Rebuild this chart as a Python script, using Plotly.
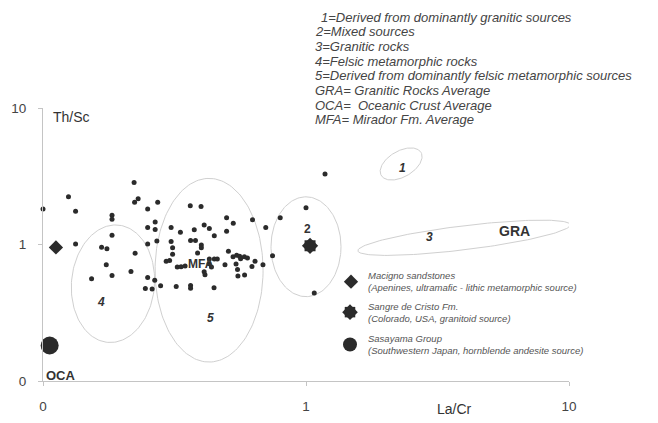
import math
import plotly.graph_objects as go

# ---------------- data ----------------
la_cr = [0.100, 0.125, 0.133, 0.222, 0.223, 0.230, 0.273, 0.250, 0.183, 0.183,
         0.183, 0.133, 0.167, 0.175, 0.224, 0.174, 0.183, 0.153, 0.216, 0.250,
         0.266, 0.245, 0.260, 0.280, 0.321, 0.364, 0.364, 0.447, 0.267, 0.250,
         0.267, 0.250, 0.271, 0.307, 0.333, 0.376, 0.410, 0.429, 0.448, 0.363,
         0.399, 0.499, 0.529, 0.499, 0.307, 0.311, 0.311, 0.294, 0.303, 0.364,
         0.380, 0.400, 0.400, 0.387, 0.324, 0.335, 0.347, 0.410, 0.413, 0.428,
         0.437, 0.429, 0.448, 0.460, 0.492, 0.507, 0.528, 0.545, 0.559, 0.564,
         0.583, 0.599, 0.542, 0.549, 0.551, 0.584, 0.626, 0.640, 0.623, 0.686,
         0.703, 0.746, 0.798, 1.000, 1.181, 1.075]
th_sc = [1.82, 2.24, 1.75, 2.85, 2.04, 2.16, 2.04, 1.82, 1.64, 1.53,
         1.17, 1.01, 0.955, 0.931, 0.863, 0.711, 0.594, 0.562, 0.634, 0.574,
         0.548, 0.477, 0.473, 0.499, 0.493, 0.501, 0.479, 0.483, 1.46, 1.33,
         1.29, 1.01, 1.06, 1.33, 1.23, 1.28, 1.39, 1.31, 1.16, 1.92,
         1.90, 1.57, 1.43, 1.25, 1.05, 0.947, 0.849, 0.754, 0.763, 1.07,
         1.07, 0.991, 0.947, 0.866, 0.684, 0.688, 0.696, 0.632, 0.601, 0.723,
         0.684, 0.784, 0.784, 0.784, 0.711, 0.893, 0.814, 0.834, 0.821, 0.787,
         0.814, 0.796, 0.721, 0.657, 0.588, 0.599, 1.52, 0.754, 0.691, 0.711,
         1.33, 0.827, 1.57, 1.86, 3.29, 0.442]

macigno_la_cr, macigno_th_sc = [0.112], [0.952]
sangre_la_cr, sangre_th_sc = [1.036], [0.979]
sasayama_la_cr, sasayama_th_sc = [0.106], [0.182]

x_tick_vals = [0.1, 1, 10]
x_tick_text = ["0", "1", "10"]
y_tick_vals = [0.1, 1, 10]
y_tick_text = ["0", "1", "10"]

field_labels = ["1", "2", "3", "4", "5"]
field_center_la_cr = [2.30, 1.00, 3.99, 0.1845, 0.428]
field_center_th_sc = [3.89, 0.963, 1.12, 0.516, 0.648]

label_text = ["1", "2", "3", "4", "5", "GRA", "MFA", "OCA"]
label_la_cr = [2.32, 1.009, 2.96, 0.166, 0.4315, 6.23, 0.399, 0.117]
label_th_sc = [3.64, 1.304, 1.14, 0.381, 0.291, 1.26, 0.723, 0.1097]

legend_lines = [
    "1=Derived from dominantly granitic sources",
    "2=Mixed sources",
    "3=Granitic rocks",
    "4=Felsic metamorphic rocks",
    "5=Derived from dominantly felsic metamorphic sources",
    "GRA= Granitic Rocks Average",
    "OCA=  Oceanic Crust Average",
    "MFA= Mirador Fm. Average",
]
ref_names = ["Macigno sandstones", "Sangre de Cristo Fm.", "Sasayama Group"]
ref_notes = ["(Apenines, ultramafic - lithic metamorphic source)",
             "(Colorado, USA, granitoid source)",
             "(Southwestern Japan, hornblende andesite source)"]

# ---------------- layout geometry (page pixels) ----------------
OFF = 8                      # default body margin of the html page
W, H = 650, 415              # figure size
PLOT_L, PLOT_R, PLOT_T, PLOT_B = 43, 569, 108, 381.5
ML, MR = PLOT_L - OFF, OFF + W - PLOT_R
MT, MB = PLOT_T - OFF, OFF + H - PLOT_B
X_RANGE, Y_RANGE = [-1, 1], [-1, 1]
PW, PH = PLOT_R - PLOT_L, PLOT_B - PLOT_T
SX = PW / (X_RANGE[1] - X_RANGE[0])
SY = PH / (Y_RANGE[1] - Y_RANGE[0])

FONT = "Liberation Sans, Arial, sans-serif"
DOT = "#2b2b2b"
FIELD = "#d0d0d0"
AXIS = "#c4c4c4"

# field outline shapes: (semi-axis a px, semi-axis b px, rotation deg)
field_shape = [(23, 13, 30), (35, 50, 0), (107, 12, 7), (41.5, 59, -5), (54, 92, 0)]


def outline(cx, cy, a, b, rot, n=160):
    u0, v0 = math.log10(cx) * SX, math.log10(cy) * SY
    th = math.radians(rot)
    xs, ys = [], []
    for i in range(n + 1):
        t = 2 * math.pi * i / n
        du = a * math.cos(t) * math.cos(th) - b * math.sin(t) * math.sin(th)
        dv = a * math.cos(t) * math.sin(th) + b * math.sin(t) * math.cos(th)
        xs.append(10 ** ((u0 + du) / SX))
        ys.append(10 ** ((v0 + dv) / SY))
    return xs, ys


def px_to_paper(px, py):
    return (px - PLOT_L) / PW, (PLOT_B - py) / PH


fig = go.Figure()

for i, name in enumerate(field_labels):
    a, b, r = field_shape[i]
    xs, ys = outline(field_center_la_cr[i], field_center_th_sc[i], a, b, r)
    fig.add_trace(go.Scatter(x=xs, y=ys, mode="lines", cliponaxis=False,
                             line=dict(color=FIELD, width=1), hoverinfo="skip"))

fig.add_trace(go.Scatter(x=la_cr, y=th_sc, mode="markers", cliponaxis=False,
                         marker=dict(size=5, color=DOT)))

fig.add_trace(go.Scatter(x=macigno_la_cr, y=macigno_th_sc, mode="markers", cliponaxis=False,
                         marker=dict(symbol="diamond", size=11, color=DOT)))
for sym, sz in (("square", 11), ("diamond", 12.5)):
    fig.add_trace(go.Scatter(x=sangre_la_cr, y=sangre_th_sc, mode="markers", cliponaxis=False,
                             marker=dict(symbol=sym, size=sz, color=DOT)))
fig.add_trace(go.Scatter(x=sasayama_la_cr, y=sasayama_th_sc, mode="markers", cliponaxis=False,
                         marker=dict(symbol="circle", size=18, color=DOT)))

# legend keys (overlay axes in paper fractions)
key_px = [(351, 282), (350, 312.5), (350, 345)]
kx = [px_to_paper(*k)[0] for k in key_px]
ky = [px_to_paper(*k)[1] for k in key_px]
fig.add_trace(go.Scatter(x=[kx[0]], y=[ky[0]], xaxis="x2", yaxis="y2", mode="markers",
                         marker=dict(symbol="diamond", size=11, color=DOT)))
for sym, sz in (("square", 10.5), ("diamond", 12)):
    fig.add_trace(go.Scatter(x=[kx[1]], y=[ky[1]], xaxis="x2", yaxis="y2", mode="markers",
                             marker=dict(symbol=sym, size=sz, color=DOT)))
fig.add_trace(go.Scatter(x=[kx[2]], y=[ky[2]], xaxis="x2", yaxis="y2", mode="markers",
                         marker=dict(symbol="circle", size=14, color=DOT)))

ann = []
label_style = {
    "1": (12, True, True), "2": (12, True, False), "3": (12, True, True),
    "4": (12, True, True), "5": (12, True, True), "GRA": (14, True, False),
    "MFA": (12, True, False), "OCA": (13, True, False),
}
for t, lx, ly in zip(label_text, label_la_cr, label_th_sc):
    size, bold, ital = label_style[t]
    s = t
    if ital:
        s = "<i>" + s + "</i>"
    if bold:
        s = "<b>" + s + "</b>"
    ann.append(dict(x=math.log10(lx), y=math.log10(ly), xref="x", yref="y", text=s,
                    xanchor="center", yanchor="middle",
                    showarrow=False, font=dict(family=FONT, size=size, color="#333")))

# top legend text
for i, line in enumerate(legend_lines):
    x0 = 319 if i == 0 else 313
    xp, yp = px_to_paper(x0, 17 + i * 14.7)
    ann.append(dict(x=xp, y=yp, xref="paper", yref="paper", xanchor="left", yanchor="middle",
                    text="<i>" + line + "</i>", showarrow=False,
                    font=dict(family=FONT, size=13, color="#444")))

# reference legend texts
for i in range(3):
    xp, yp = px_to_paper(366, key_px[i][1])
    ann.append(dict(x=xp, y=yp, xref="paper", yref="paper", xanchor="left", yanchor="middle",
                    align="left", text="<i>" + ref_names[i] + "<br>" + ref_notes[i] + "</i>",
                    showarrow=False, font=dict(family=FONT, size=9.5, color="#555")))

# axis titles
xp, yp = px_to_paper(71, 117)
ann.append(dict(x=xp, y=yp, xref="paper", yref="paper", text="Th/Sc", showarrow=False,
                xanchor="center", yanchor="middle",
                font=dict(family=FONT, size=14, color="#333")))
xp, yp = px_to_paper(454, 410)
ann.append(dict(x=xp, y=yp, xref="paper", yref="paper", text="La/Cr", showarrow=False,
                xanchor="center", yanchor="middle",
                font=dict(family=FONT, size=14, color="#333")))

axis_common = dict(type="log", showline=True, linecolor=AXIS, linewidth=1, ticks="outside",
                   ticklen=4, tickcolor=AXIS, showgrid=False, zeroline=False, automargin=False,
                   tickfont=dict(family=FONT, size=13.5, color="#444"))

fig.update_layout(
    template="none",
    width=W, height=H,
    margin=dict(l=ML, r=MR, t=MT, b=MB, pad=0),
    paper_bgcolor="white", plot_bgcolor="white",
    showlegend=False,
    xaxis=dict(range=X_RANGE, tickvals=x_tick_vals, ticktext=x_tick_text,
               ticklabelstandoff=9, **axis_common),
    yaxis=dict(range=Y_RANGE, tickvals=y_tick_vals, ticktext=y_tick_text,
               ticklabelstandoff=9, **axis_common),
    xaxis2=dict(overlaying="x", range=[0, 1], visible=False),
    yaxis2=dict(overlaying="y", range=[0, 1], visible=False),
    annotations=ann,
)

fig.write_html("out.html")
